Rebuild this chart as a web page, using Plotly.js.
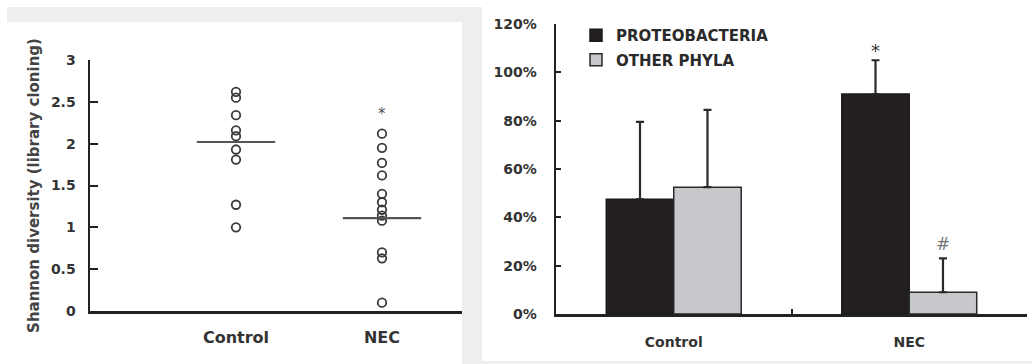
<!DOCTYPE html>
<html>
<head>
<meta charset="utf-8">
<script src="https://cdn.plot.ly/plotly-3.0.1.min.js"></script>
<style>
  html, body { margin: 0; padding: 0; background: #ffffff; }
  #chart { width: 1032px; height: 364px; }
</style>
</head>
<body>
<div id="chart"></div>
<script>
// ---------- data ----------
const groups = ['Control', 'NEC'];
const groupPos = [1, 2];

// left panel: Shannon diversity (library cloning), individual samples
const controlShannon = [2.62, 2.55, 2.34, 2.16, 2.09, 1.93, 1.81, 1.27, 1.00];
const necShannon = [2.12, 1.95, 1.77, 1.62, 1.40, 1.30, 1.21, 1.14, 1.08, 0.70, 0.63, 0.10];
const shannonCentre = [2.02, 1.11];
const shannonStarLevel = 2.36;

// right panel: relative abundance (%)
const seriesNames = ['PROTEOBACTERIA', 'OTHER PHYLA'];
const proteobacteria = [47.5, 91];
const proteobacteriaSD = [32, 14];
const otherPhyla = [52.5, 9];
const otherPhylaSD = [32, 14];
const proteoStarLevel = 109;
const otherHashLevel = 29;

// ---------- styles ----------
const FONT = 'DejaVu Sans, Arial, sans-serif';
const DARK = '#222222';
const TXT = '#333333';
const GRAY_BG = '#eeeeee';

const traces = [
  {
    type: 'scatter', mode: 'markers', xaxis: 'x', yaxis: 'y',
    x: controlShannon.map(() => groupPos[0]), y: controlShannon,
    marker: { symbol: 'circle-open', size: 8.5, color: '#3a3a3a', line: { width: 1.8 } },
    showlegend: false, hoverinfo: 'skip'
  },
  {
    type: 'scatter', mode: 'markers', xaxis: 'x', yaxis: 'y',
    x: necShannon.map(() => groupPos[1]), y: necShannon,
    marker: { symbol: 'circle-open', size: 8.5, color: '#3a3a3a', line: { width: 1.8 } },
    showlegend: false, hoverinfo: 'skip'
  },
  {
    type: 'scatter', mode: 'markers', xaxis: 'x', yaxis: 'y',
    x: groupPos, y: shannonCentre,
    marker: { symbol: 'line-ew-open', size: 56, color: '#555555', line: { width: 2.2 } },
    showlegend: false, hoverinfo: 'skip'
  },
  {
    type: 'bar', xaxis: 'x2', yaxis: 'y2', name: seriesNames[0], legendgroup: 'a',
    x: groups, y: proteobacteria,
    marker: { color: '#231f20', line: { color: '#1a1a1a', width: 1.5 } },
    error_y: { type: 'data', symmetric: false, array: proteobacteriaSD,
               arrayminus: proteobacteriaSD.map(() => 0),
               color: '#2a2a2a', thickness: 2.2, width: 4 }
  },
  {
    type: 'bar', xaxis: 'x2', yaxis: 'y2', name: seriesNames[1], legendgroup: 'b',
    x: groups, y: otherPhyla,
    marker: { color: '#c7c8cc', line: { color: '#2a2a2a', width: 1.5 } },
    error_y: { type: 'data', symmetric: false, array: otherPhylaSD,
               arrayminus: otherPhylaSD.map(() => 0),
               color: '#2a2a2a', thickness: 2.2, width: 4 }
  }
];

const W = 1032, H = 364;
const px = v => v / W;
const py = v => 1 - v / H;

const layout = {
  width: W, height: H,
  margin: { l: 0, r: 0, t: 0, b: 0 },
  paper_bgcolor: '#ffffff', plot_bgcolor: 'rgba(0,0,0,0)',
  font: { family: FONT, color: TXT },
  barmode: 'group', bargap: 0.427, bargroupgap: 0,
  showlegend: true,
  legend: {
    x: px(576), y: py(19), xanchor: 'left', yanchor: 'top',
    bgcolor: 'rgba(0,0,0,0)', traceorder: 'grouped', tracegroupgap: 2,
    font: { family: FONT, size: 15, color: '#2a2a2a', weight: 'bold' },
    itemwidth: 30
  },
  xaxis: {
    domain: [px(90), px(462)], anchor: 'y',
    range: [0, 2.548], tickvals: groupPos, ticktext: groups,
    showline: true, linecolor: DARK, linewidth: 2.5,
    ticks: '', showgrid: false, zeroline: false,
    tickfont: { family: FONT, size: 16, color: TXT, weight: 'bold' },
    ticklabelstandoff: 10
  },
  yaxis: {
    domain: [1 - 311 / H, 1 - 60 / H], anchor: 'x',
    range: [0, 3], dtick: 0.5, tick0: 0,
    showline: true, linecolor: DARK, linewidth: 2.5,
    ticks: 'inside', ticklen: 8, tickwidth: 2, tickcolor: DARK,
    showgrid: false, zeroline: false,
    tickfont: { family: FONT, size: 14, color: TXT, weight: 'bold' },
    ticklabelstandoff: 9,
    title: { text: 'Shannon diversity (library cloning)', standoff: 8,
             font: { family: FONT, size: 15, color: '#444444', weight: 'bold' } }
  },
  xaxis2: {
    domain: [px(556), px(1027)], anchor: 'y2',
    type: 'category', range: [-0.5, 1.5],
    showline: true, linecolor: DARK, linewidth: 2.5,
    ticks: 'inside', tickson: 'boundaries', ticklen: 5, tickwidth: 2, tickcolor: DARK,
    showgrid: false, zeroline: false,
    tickfont: { family: FONT, size: 14, color: TXT, weight: 'bold' },
    ticklabelstandoff: 14
  },
  yaxis2: {
    domain: [1 - 314 / H, 1 - 24 / H], anchor: 'x2',
    range: [0, 120], dtick: 20, tick0: 0, ticksuffix: '%',
    showline: true, linecolor: DARK, linewidth: 2.5,
    ticks: 'inside', ticklen: 5, tickwidth: 2, tickcolor: DARK,
    showgrid: false, zeroline: false,
    tickfont: { family: FONT, size: 14, color: TXT, weight: 'bold' },
    ticklabelstandoff: 14
  },
  shapes: [
    { type: 'rect', xref: 'paper', yref: 'paper', layer: 'below',
      x0: px(7), x1: px(462), y0: py(22), y1: py(7),
      fillcolor: GRAY_BG, line: { width: 0 } },
    { type: 'rect', xref: 'paper', yref: 'paper', layer: 'below',
      x0: px(462), x1: px(482), y0: 0, y1: py(7),
      fillcolor: GRAY_BG, line: { width: 0 } },
    { type: 'rect', xref: 'paper', yref: 'paper', layer: 'below',
      x0: px(482), x1: 1, y0: 0, y1: py(361),
      fillcolor: GRAY_BG, line: { width: 0 } }
  ],
  annotations: [
    { xref: 'x', yref: 'y', x: groupPos[1], y: shannonStarLevel, text: '*',
      showarrow: false, font: { family: FONT, size: 15, color: '#555555' } },
    { xref: 'x2', yref: 'y2', x: groups[1], y: proteoStarLevel, text: '*', xshift: -34,
      showarrow: false, font: { family: FONT, size: 18, color: '#333333' } },
    { xref: 'x2', yref: 'y2', x: groups[1], y: otherHashLevel, text: '#', xshift: 34,
      showarrow: false, font: { family: FONT, size: 17, color: '#777777' } }
  ]
};

Plotly.newPlot('chart', traces, layout, { staticPlot: true, displayModeBar: false });
</script>
</body>
</html>
